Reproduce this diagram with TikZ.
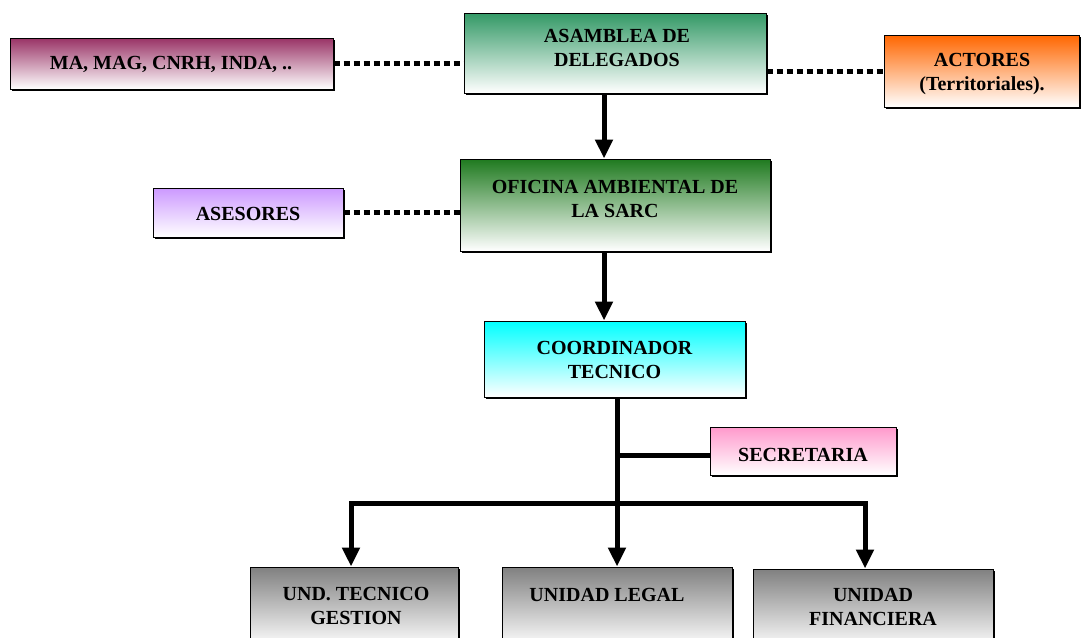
\documentclass[tikz,border=0pt]{standalone}
\usepackage{fontspec}
\setmainfont{Liberation Serif}
\usetikzlibrary{arrows.meta,shadows}
\definecolor{cma}{HTML}{993366}
\definecolor{casam}{HTML}{339966}
\definecolor{cact}{HTML}{FF6600}
\definecolor{cofi}{HTML}{1F7A1F}
\definecolor{cases}{HTML}{CC99FF}
\definecolor{ccoord}{HTML}{00FFFF}
\definecolor{csec}{HTML}{FF99CC}
\definecolor{cunit}{HTML}{808080}
\begin{document}
\begin{tikzpicture}[x=1pt,y=-1pt,
  box/.style={draw=black, line width=1pt, top color=#1, bottom color=white,
    drop shadow={shadow xshift=2pt,shadow yshift=-2pt,fill=black,opacity=1},
    inner sep=0pt},
  lbl/.style={font=\fontsize{20}{24}\selectfont\bfseries, align=center, inner sep=0pt},
  dots/.style={line width=5pt, dash pattern=on 6pt off 4pt},
  conn/.style={line width=5pt},
  arr/.style={line width=5pt, line join=miter, -{Triangle[width=17pt,length=19pt]}}]
\useasboundingbox (0,0) rectangle (1081,637);
\clip (0,0) rectangle (1081,637);
% boxes
\node[box=cma, minimum width=323pt, minimum height=51pt] (ma) at (171.5,63.5) {};
\node[box=casam, minimum width=302pt, minimum height=80pt] (asam) at (615,53) {};
\node[box=cact, minimum width=195pt, minimum height=72pt] (act) at (981.5,71) {};
\node[box=cofi, minimum width=310pt, minimum height=92pt] (ofi) at (615,205) {};
\node[box=cases, minimum width=190pt, minimum height=49pt] (ases) at (248,212.5) {};
\node[box=ccoord, minimum width=261pt, minimum height=76pt] (coord) at (614.5,359) {};
\node[box=csec, minimum width=186pt, minimum height=48pt] (sec) at (803,451) {};
\node[box=cunit, minimum width=208pt, minimum height=80pt] (und) at (354,607) {};
\node[box=cunit, minimum width=230pt, minimum height=80pt] (legal) at (617,607) {};
\node[box=cunit, minimum width=240pt, minimum height=80pt] (fin) at (873,609) {};
% texts
\node[lbl] (tma) at (171,64) {MA, MAG, CNRH, INDA, ..};
\node[lbl] (tasam) at (617,48) {ASAMBLEA DE\\DELEGADOS};
\node[lbl] (tact) at (982,74) {ACTORES\\(Territoriales).};
\node[lbl] (tofi) at (615,199) {OFICINA AMBIENTAL DE\\LA SARC};
\node[lbl] (tases) at (248,214) {ASESORES};
\node[lbl] (tcoord) at (614.5,360) {COORDINADOR\\TECNICO};
\node[lbl] (tsec) at (803,455) {SECRETARIA};
\node[lbl] (tund) at (356,606) {UND. TECNICO\\GESTION};
\node[lbl] (tlegal) at (607,595) {UNIDAD LEGAL};
\node[lbl] (tfin) at (873,607) {UNIDAD\\FINANCIERA};
% dotted links
\draw[dots] (ma.east) -- (asam.west |- ma.east);
\draw[dots] (asam.east |- act.west) -- (act.west);
\draw[dots] (ases.east) -- (ofi.west |- ases.east);
% arrows
\draw[arr] ([xshift=-11pt]asam.south) -- ([xshift=-11pt]ofi.north);
\draw[arr] ([xshift=-11pt]ofi.south) -- ([xshift=-10.5pt]coord.north);
\coordinate (split) at (617,503);
\coordinate (sj) at (617,455);
\coordinate (lb) at (351,503);
\coordinate (rb) at (865,503);
\draw[arr] ([xshift=2.5pt]coord.south) -- (legal.north);
\draw[conn] (sj) -- (sec.west |- sj);
\draw[arr] (split) -- (lb) -- (und.north -| lb);
\draw[arr] (split) -- (rb) -- (fin.north -| rb);
\end{tikzpicture}
\end{document}
